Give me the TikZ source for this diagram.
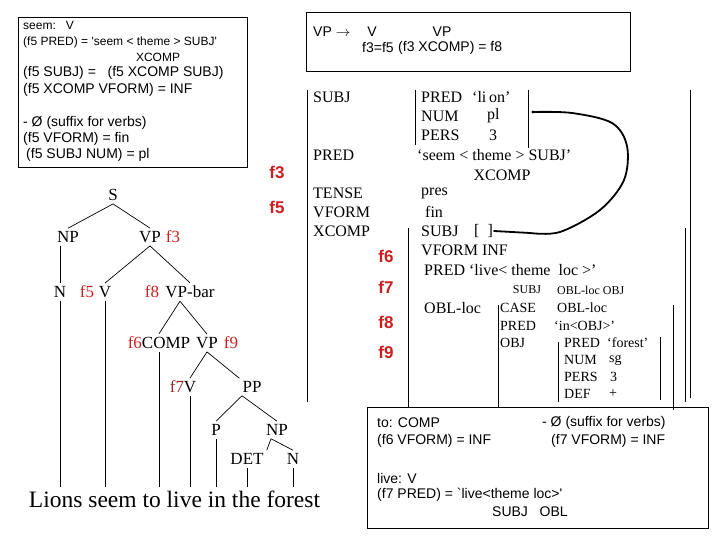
\documentclass[tikz,border=0pt]{standalone}
\usepackage{fontspec}
\setmainfont{Liberation Serif}
\newfontfamily\arialfont{Liberation Sans}[Ligatures=TeXOff]
\definecolor{fred}{RGB}{204,32,32}
\definecolor{fmaroon}{RGB}{150,40,40}

\begin{document}
\begin{tikzpicture}[x=1pt, y=-1pt,
  every node/.style = {inner sep=1pt},
  tlab/.style = {inner sep=3pt, font=\fontsize{17}{17}\selectfont},
  tf/.style = {tlab, text=fred},
  fs/.style = {anchor=west, font=\fontsize{16}{16}\selectfont},
  fsm/.style = {anchor=west, font=\fontsize{14}{14}\selectfont},
  fsx/.style = {anchor=west, font=\fontsize{12}{12}\selectfont},
  ftag/.style = {font=\arialfont\bfseries\fontsize{17}{17}\selectfont, text=fred},
  lex/.style = {anchor=west, font=\arialfont\fontsize{14}{14}\selectfont},
  lexs/.style = {anchor=west, font=\arialfont\fontsize{12}{12}\selectfont},
  branch/.style = {line width=0.7pt},
  fbar/.style = {line width=1pt},
  rulebox/.style = {line width=1pt},
  link/.style = {line width=1.8pt, line cap=round},
]
\useasboundingbox[fill=white] (0,0) rectangle (720,540);

%% ── Lexical entry: seem ──────────────────────────────────────────────────────
\draw[rulebox] (18,18) rectangle (247,168);
\node[lexs] (seemA) at (22,25) {seem:\ \ \ V};
\node[lexs] (seemB) at (22,42) {(f5 PRED) = 'seem < theme > SUBJ'};
\node[font=\arialfont\fontsize{12}{12}\selectfont] (seemC) at (158,57) {XCOMP};
\node[lex] (seemD) at (22,73) {(f5 SUBJ) =\ \ \ (f5 XCOMP SUBJ)};
\node[lex] (seemE) at (22,90) {(f5 XCOMP VFORM) = INF};
\node[lex] (seemF) at (22,123) {- Ø (suffix for verbs)};
\node[lex] (seemG) at (22,139) {(f5 VFORM) = fin};
\node[lex] (seemH) at (25,155) {(f5 SUBJ NUM) = pl};

%% ── Phrase structure rule ────────────────────────────────────────────────────
\draw[rulebox] (306,13) rectangle (630,72);
\node[lex] (ruleL) at (312,32) {VP $\rightarrow$};
\node[lex, anchor=center] (ruleV) at (372,32) {V};
\node[lex, anchor=center] (ruleVP) at (442,32) {VP};
\node[lex] (ruleA) at (361,48) {f3=f5};
\node[lex] (ruleB) at (397,48) {(f3\ XCOMP)\ =\ f8};

%% ── f-structure labels ───────────────────────────────────────────────────────
\node[ftag] (tagThree) at (277,172) {f3};
\node[ftag] (tagFive) at (277,207) {f5};
\node[ftag] (tagSix) at (386,256) {f6};
\node[ftag] (tagSeven) at (386,287) {f7};
\node[ftag] (tagEight) at (386,322) {f8};
\node[ftag] (tagNine) at (386,352) {f9};

%% ── Outer f-structure ────────────────────────────────────────────────────────
\draw[fbar] (307,90) -- (307,402);
\draw[fbar] (690,90) -- (690,398);
\node[fs] (oSubj) at (312,97) {SUBJ};
\node[fs] (oPred) at (312,155) {PRED};
\node[fs] (oTense) at (312,193) {TENSE};
\node[fs] (oVform) at (312,212) {VFORM};
\node[fs] (oXcomp) at (312,231) {XCOMP};

%% SUBJ value
\draw[fbar] (415,90) -- (415,145);
\draw[fbar] (528,90) -- (528,148);
\node[fs] (sPred) at (420,97) {PRED};
\node[fs] (sPredV) at (471,97) {‘li\,on’};
\node[fs] (sNum) at (420,116) {NUM};
\node[fs] (sNumV) at (486,116) {pl};
\node[fs] (sPers) at (420,135) {PERS};
\node[fs] (sPersV) at (488,135) {3};

%% PRED, TENSE, VFORM values
\node[fs] (oPredV) at (416,155) {‘seem < theme > SUBJ’};
\node[font=\fontsize{16}{16}\selectfont] (oPredX) at (502,175) {XCOMP};
\node[fs] (oTenseV) at (420,193) {pres};
\node[fs] (oVformV) at (424,212) {fin};

%% XCOMP value
\draw[fbar] (408,228) -- (408,408);
\draw[fbar] (685,228) -- (685,402);
\node[fs] (xSubj) at (420,231) {SUBJ};
\node[fs] (brk) at (473,231) {[\ \ ]};
\node[fs] (xVform) at (420,250) {VFORM\ INF};
\node[fs] (xPred) at (423,270) {PRED ‘live< theme\ \ loc >’};
\node[font=\fontsize{12}{12}\selectfont] (xSubjGf) at (527,290) {SUBJ};
\node[fsx] (xOblGf) at (556,290) {OBL-loc OBJ};
\node[fs] (xObl) at (423,308) {OBL-loc};

%% OBL-loc value
\draw[fbar] (498,305) -- (498,408);
\draw[fbar] (673,305) -- (673,410);
\node[fsm] (bCase) at (499,308) {CASE};
\node[fsm] (bCaseV) at (556,308) {OBL-loc};
\node[fsm] (bPred) at (499,326) {PRED};
\node[fsm] (bPredV) at (553,326) {‘in<OBJ>’};
\node[fsm] (bObj) at (499,343) {OBJ};

%% OBJ value
\draw[fbar] (558,342) -- (558,402);
\draw[fbar] (660,337) -- (660,400);
\node[fsm] (jPred) at (563,343) {PRED};
\node[fsm] (jPredV) at (606,343) {‘forest’};
\node[fsm] (jNum) at (563,360) {NUM};
\node[fsm] (jNumV) at (608,360) {sg};
\node[fsm] (jPers) at (563,377) {PERS};
\node[fsm] (jPersV) at (609,377) {3};
\node[fsm] (jDef) at (563,394) {DEF};
\node[fsm] (jDefV) at (608,394) {+};

%% structure sharing link
\coordinate (subjLink) at (533,112);
\fill (subjLink) circle (1.6pt);
\draw[link] plot[smooth, tension=0.55] coordinates
  {(533,112) (572,113) (612,123) (627,146) (624,180) (600,210) (560,232) (530,233)}
  -- (brk.east);

%% ── c-structure tree ─────────────────────────────────────────────────────────
\node[tlab] (S) at (113,195) {S};
\node[tlab] (NPa) at (68,237) {NP};
\node[tlab] (VPa) at (150,237) {VP};
\node[tf] (fThree) at (173,237) {f3};
\node[tlab] (Na) at (60,292) {N};
\node[tf] (fFive) at (87,292) {f5};
\node[tlab] (Va) at (105,292) {V};
\node[tf] (fEight) at (152,292) {f8};
\node[tlab] (VPbar) at (190,292) {VP-bar};
\node[tlab] (COMP) at (159,343) {\textcolor{fred}{f6}COMP};
\node[tlab] (VPb) at (207,343) {VP};
\node[tf] (fNine) at (231,343) {f9};
\node[tlab, text=fmaroon] (fSeven) at (177,387) {f7};
\node[tlab] (Vb) at (190,387) {V};
\node[tlab] (PP) at (252,387) {PP};
\node[tlab] (P) at (216,430) {P};
\node[tlab] (NPb) at (277,430) {NP};
\node[tlab] (DET) at (247,459) {DET};
\node[tlab] (Nb) at (293,459) {N};
\node[inner sep=3pt, font=\fontsize{23.5}{23.5}\selectfont] (sent) at (174.5,499)
  {Lions seem to live in the forest};

%% branches
\draw[branch] (S.south) -- (NPa.north);
\draw[branch] (S.south) -- (VPa.north);
\draw[branch] (Na.north |- NPa.south) -- (Na.north);
\draw[branch] (VPa.south) -- (Va.north);
\draw[branch] (VPa.south) -- (VPbar.north);
\draw[branch] ([xshift=-10pt]VPbar.south) -- (COMP.north);
\draw[branch] ([xshift=-10pt]VPbar.south) -- (VPb.north);
\draw[branch] (VPb.south) -- (Vb.north);
\draw[branch] (VPb.south) -- (PP.north west);
\draw[branch] ([xshift=-10pt]PP.south) -- (P.north);
\draw[branch] ([xshift=-10pt]PP.south) -- (NPb.north);
\draw[branch] ([xshift=-6pt]NPb.south) -- (DET.north east);
\draw[branch] ([xshift=-6pt]NPb.south) -- (Nb.north);

%% lines down to the words
\foreach \n in {Na, Va, COMP, Vb, P, DET, Nb}
  \draw[branch] (\n.south) -- (\n.south |- sent.north);

%% ── Lexical entries: to, live ────────────────────────────────────────────────
\draw[rulebox] (367,407) rectangle (708,528);
\node[lex] (toA) at (376,423) {to: COMP};
\node[lex] (toB) at (376,441) {(f6 VFORM) = INF};
\node[lex] (sufA) at (541,423) {- Ø (suffix for verbs)};
\node[lex] (sufB) at (550,441) {(f7 VFORM) = INF};
\node[lex] (liveA) at (376,478) {live: V};
\node[lex] (liveB) at (376,495) {(f7 PRED) = `live<theme loc>'};
\node[lex] (liveC) at (491,512) {SUBJ\ \ \ OBL};

\end{tikzpicture}
\end{document}
